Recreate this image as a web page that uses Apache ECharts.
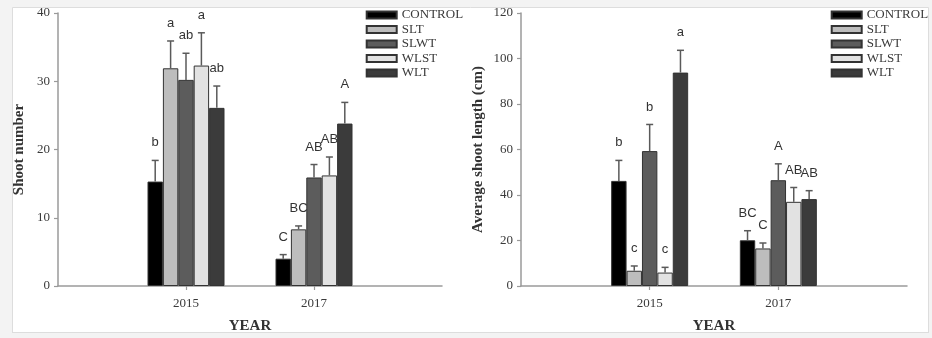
<!DOCTYPE html>
<html><head><meta charset="utf-8">
<script src="https://cdn.jsdelivr.net/npm/echarts@6/dist/echarts.min.js"></script>
<style>html,body{margin:0;padding:0;background:#f3f3f3}#c{width:932px;height:338px}</style>
</head><body><div id="c"></div>
<script>
const years = ['2015', '2017'];
const treatments = ['CONTROL', 'SLT', 'SLWT', 'WLST', 'WLT'];
const colors = ['#000000', '#bdbdbd', '#5c5c5c', '#e2e2e2', '#3b3b3b'];

const shootMean2015 = [15.3, 31.9, 30.2, 32.3, 26.1];
const shootErr2015 = [3.1, 4.0, 3.9, 4.8, 3.2];
const shootLetters2015 = ['b', 'a', 'ab', 'a', 'ab'];
const shootMean2017 = [4.0, 8.3, 15.9, 16.2, 23.8];
const shootErr2017 = [0.6, 0.5, 1.9, 2.7, 3.1];
const shootLetters2017 = ['C', 'BC', 'AB', 'AB', 'A'];

const lengthMean2015 = [46.2, 6.7, 59.3, 5.9, 93.8];
const lengthErr2015 = [9.0, 2.1, 11.7, 2.3, 9.8];
const lengthLetters2015 = ['b', 'c', 'b', 'c', 'a'];
const lengthMean2017 = [20.1, 16.5, 46.5, 37.0, 38.2];
const lengthErr2017 = [4.2, 2.4, 7.2, 6.3, 3.7];
const lengthLetters2017 = ['BC', 'C', 'A', 'AB', 'AB'];

const shootTicks = {min: 0, max: 40, interval: 10};
const lengthTicks = {min: 0, max: 120, interval: 20};

const BW = 15.4;
const serif = '"Liberation Serif", "DejaVu Serif", serif';
const sans = '"Liberation Sans", Arial, sans-serif';
const cats = ['', years[0], years[1], ''];

function xAxis(gi) {
  return {
    type: 'category', gridIndex: gi, data: cats, boundaryGap: false,
    name: 'YEAR', nameLocation: 'middle', nameGap: 33,
    nameTextStyle: {fontFamily: serif, fontWeight: 'bold', fontSize: 15, color: '#333'},
    axisLine: {show: true, lineStyle: {color: '#9a9a9a', width: 1.5}},
    axisTick: {show: true, length: 4, interval: (i) => i === 1 || i === 2, lineStyle: {color: '#9a9a9a', width: 1.2}},
    axisLabel: {show: true, interval: 0, margin: 11, fontFamily: serif, fontSize: 13, color: '#3a3a3a'},
    splitLine: {show: false}
  };
}
function yAxis(gi, t, name, gap) {
  return {
    type: 'value', gridIndex: gi, min: t.min, max: t.max, interval: t.interval,
    name: name, nameLocation: 'middle', nameGap: gap,
    nameTextStyle: {fontFamily: serif, fontWeight: 'bold', fontSize: 15, color: '#333'},
    axisLine: {show: true, lineStyle: {color: '#9a9a9a', width: 1.5}},
    axisTick: {show: true, length: 4, lineStyle: {color: '#9a9a9a', width: 1.2}},
    axisLabel: {margin: 8, fontFamily: serif, fontSize: 13, color: '#3a3a3a'},
    splitLine: {show: false}
  };
}

function barSeries(gi, means15, means17) {
  return treatments.map((t, k) => ({
    name: t, type: 'bar', xAxisIndex: gi, yAxisIndex: gi,
    barWidth: BW, barGap: '0%',
    itemStyle: {color: colors[k], borderColor: '#333', borderWidth: 1},
    data: [null, means15[k], means17[k], null],
    z: 2
  }));
}

function errSeries(gi, m15, e15, l15, m17, e17, l17) {
  const rows = [];
  const letters = [];
  treatments.forEach((t, k) => {
    rows.push([1, k, m15[k], e15[k]]); letters.push(l15[k]);
    rows.push([2, k, m17[k], e17[k]]); letters.push(l17[k]);
  });
  return {
    type: 'custom', xAxisIndex: gi, yAxisIndex: gi, z: 5,
    data: rows,
    renderItem: function (params, api) {
      const ci = api.value(0), k = api.value(1), m = api.value(2), e = api.value(3);
      const base = api.coord([ci, m]);
      const top = api.coord([ci, m + e]);
      const x = base[0] + (k - 2) * BW;
      const cap = 3.5;
      return {
        type: 'group',
        children: [
          {type: 'line', shape: {x1: x, y1: base[1], x2: x, y2: top[1]}, style: {stroke: '#5a5a5a', lineWidth: 1.5}},
          {type: 'line', shape: {x1: x - cap, y1: top[1], x2: x + cap, y2: top[1]}, style: {stroke: '#5a5a5a', lineWidth: 1.5}},
          {type: 'text', style: {x: x, y: top[1] - 11, text: letters[params.dataIndex], align: 'center', verticalAlign: 'bottom',
            font: '13px ' + sans, fill: '#333'}}
        ]
      };
    }
  };
}

function legend(left) {
  return {
    orient: 'vertical', left: left, top: 3.5, itemWidth: 30, itemHeight: 7, itemGap: 1.5,
    icon: 'rect', data: treatments, padding: 5,
    textStyle: {fontFamily: serif, fontSize: 13, color: '#3a3a3a'},
    selectedMode: false
  };
}

const chart = echarts.init(document.getElementById('c'), null, {renderer: 'canvas'});
chart.setOption({
  animation: false,
  backgroundColor: '#f3f3f3',
  graphic: [
    {type: 'rect', shape: {x: 12.5, y: 7.5, width: 916, height: 325}, style: {fill: '#ffffff', stroke: '#dddddd', lineWidth: 1}, z: -10, silent: true},
    {type: 'rect', shape: {x: 0, y: 333, width: 932, height: 5}, style: {fill: '#f3f3f3'}, z: 100, silent: true},
    {type: 'line', shape: {x1: 12, y1: 332.5, x2: 929, y2: 332.5}, style: {stroke: '#dddddd', lineWidth: 1}, z: 101, silent: true}
  ],
  legend: [legend(360.7), legend(825.7)],
  grid: [
    {left: 58, right: 490, top: 13, bottom: 52, containLabel: false, outerBoundsMode: 'none'},
    {left: 521, right: 25, top: 13, bottom: 52, containLabel: false, outerBoundsMode: 'none'}
  ],
  xAxis: [xAxis(0), xAxis(1)],
  yAxis: [yAxis(0, shootTicks, 'Shoot number', 31), yAxis(1, lengthTicks, 'Average shoot length (cm)', 35)],
  series: [
    ...barSeries(0, shootMean2015, shootMean2017),
    errSeries(0, shootMean2015, shootErr2015, shootLetters2015, shootMean2017, shootErr2017, shootLetters2017),
    ...barSeries(1, lengthMean2015, lengthMean2017),
    errSeries(1, lengthMean2015, lengthErr2015, lengthLetters2015, lengthMean2017, lengthErr2017, lengthLetters2017)
  ]
});
</script></body></html>
